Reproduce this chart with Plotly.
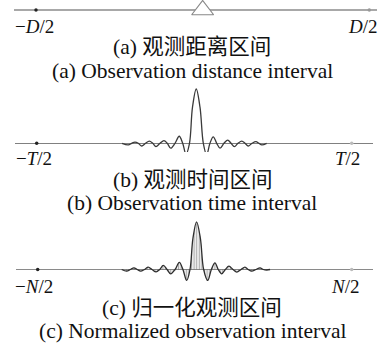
import plotly.graph_objects as go

W, H = 391, 343

# ---------------- data ----------------
interval_ends = [-1, 1]            # -X/2 and X/2 (normalized)
target_position = [0]              # observation target in distance interval

labels_a = ["\u2212<i>D</i>/2", "<i>D</i>/2"]
labels_b = ["\u2212<i>T</i>/2", "<i>T</i>/2"]
labels_c = ["\u2212<i>N</i>/2", "<i>N</i>/2"]

captions_a = ["(a) 观测距离区间", "(a) Observation distance interval"]
captions_b = ["(b) 观测时间区间", "(b) Observation time interval"]
captions_c = ["(c) 归一化观测区间", "(c) Normalized observation interval"]

# (b) echo waveform, time in units of T/2, amplitude normalized
time_b = [-0.458, -0.418, -0.397, -0.376, -0.355, -0.333, -0.309, -0.285, -0.263, -0.243,
          -0.217, -0.192, -0.171, -0.149, -0.122, -0.095, -0.073, -0.052, -0.030, -0.011,
          0.013, 0.037, 0.058, 0.079, 0.100, 0.121, 0.143, 0.164, 0.189, 0.213,
          0.234, 0.255, 0.278, 0.302, 0.323, 0.343, 0.367, 0.392, 0.411, 0.429, 0.460]
amp_b = [0, -0.03, 0, 0.02, 0, -0.05, 0, 0.04, 0, -0.06,
         0, 0.05, 0, -0.09, 0, 0.13, 0, -0.20, 0, 0.66,
         1.0, 0.66, 0, -0.21, 0, 0.12, 0, -0.09, 0, 0.06,
         0, -0.06, 0, 0.04, 0, -0.05, 0, 0.03, 0, -0.03, 0]

# (c) sampled waveform, index in units of N/2, amplitude normalized
index_c = [-0.465, -0.433, -0.410, -0.387, -0.366, -0.344, -0.320, -0.296, -0.272, -0.246,
           -0.223, -0.200, -0.176, -0.153, -0.125, -0.098, -0.075, -0.051, -0.030, -0.011,
           0.012, 0.036, 0.057, 0.083, 0.106, 0.129, 0.150, 0.172, 0.195, 0.218,
           0.244, 0.268, 0.295, 0.320, 0.341, 0.363, 0.390, 0.416, 0.437, 0.459, 0.480]
amp_c = [0, -0.035, 0, 0.035, 0, -0.035, 0, 0.05, 0, -0.05,
         0, 0.085, 0, -0.09, 0, 0.15, 0, -0.23, 0, 0.66,
         1.0, 0.66, 0, -0.23, 0, 0.14, 0, -0.09, 0, 0.07,
         0, -0.055, 0, 0.05, 0, -0.035, 0, 0.035, 0, -0.01, 0]

# ---------------- layout helpers (pixel anchors) ----------------
def xaxis_for(left_px, right_px, m1_px, p1_px):
    unit = (p1_px - m1_px) / 2.0
    c = (m1_px + p1_px) / 2.0
    return dict(domain=[left_px / W, right_px / W],
                range=[(left_px - c) / unit, (right_px - c) / unit],
                visible=False, fixedrange=True)

def yaxis_for(top_px, bottom_px, base_px, unit_px, lc, lw):
    return dict(domain=[1 - bottom_px / H, 1 - top_px / H],
                range=[-(bottom_px - base_px) / unit_px, (base_px - top_px) / unit_px],
                showgrid=False, showticklabels=False, ticks="", showline=False,
                zeroline=True, zerolinecolor=lc, zerolinewidth=lw, fixedrange=True)

serif = "Liberation Serif, Times New Roman, Noto Sans CJK SC"
fig = go.Figure()

# panel a
fig.add_trace(go.Scatter(x=interval_ends, y=[0, 0], mode="markers", xaxis="x", yaxis="y",
                         marker=dict(size=3.5, color=["#222", "#999"]), showlegend=False,
                         hoverinfo="skip"))
fig.add_trace(go.Scatter(x=target_position, y=[0], mode="markers", xaxis="x", yaxis="y",
                         marker=dict(symbol="triangle-up", size=19, color="white",
                                     line=dict(color="#888", width=1.2)), showlegend=False,
                         hoverinfo="skip"))
# panel b
fig.add_trace(go.Scatter(x=time_b, y=amp_b, mode="lines", xaxis="x2", yaxis="y2",
                         line=dict(color="#3a3a3a", width=1.3, shape="spline", smoothing=1.0),
                         showlegend=False, hoverinfo="skip"))
fig.add_trace(go.Scatter(x=interval_ends, y=[0, 0], mode="markers", xaxis="x2", yaxis="y2",
                         marker=dict(size=3.5, color=["#222", "#bbb"]), showlegend=False,
                         hoverinfo="skip"))
# panel c
fig.add_trace(go.Scatter(x=index_c, y=amp_c, mode="lines", xaxis="x3", yaxis="y3",
                         fill="tozeroy", fillcolor="rgba(0,0,0,0)",
                         fillpattern=dict(shape="|", size=2.6, solidity=0.5,
                                          fgcolor="#555", bgcolor="rgba(0,0,0,0)"),
                         line=dict(color="#2e2e2e", width=1.3, shape="spline", smoothing=1.0),
                         showlegend=False, hoverinfo="skip"))
fig.add_trace(go.Scatter(x=interval_ends, y=[0, 0], mode="markers", xaxis="x3", yaxis="y3",
                         marker=dict(size=3.5, color=["#222", "#bbb"]), showlegend=False,
                         hoverinfo="skip"))

annotations = []
def tick_labels(labels, xref, y_px, shifts):
    for xv, txt, sh in zip(interval_ends, labels, shifts):
        annotations.append(dict(x=xv, xref=xref, y=1 - y_px / H, yref="paper", text=txt,
                                showarrow=False, xanchor="center", yanchor="middle", xshift=sh,
                                font=dict(family=serif, size=19, color="#111")))

def captions(lines, ys_px):
    for txt, y_px in zip(lines, ys_px):
        annotations.append(dict(x=192 / W, xref="paper", y=1 - y_px / H, yref="paper", text=txt,
                                showarrow=False, xanchor="center", yanchor="middle",
                                font=dict(family=serif, size=21.5, color="#111")))

tick_labels(labels_a, "x", 26, [-2, -6])
captions(captions_a, [47, 71])
tick_labels(labels_b, "x2", 158, [-3, -4])
captions(captions_b, [180, 203])
tick_labels(labels_c, "x3", 286, [-4, -7])
captions(captions_c, [308, 331])

fig.update_layout(
    width=W, height=H, autosize=False,
    margin=dict(l=0, r=0, t=0, b=0),
    paper_bgcolor="white", plot_bgcolor="rgba(0,0,0,0)",
    hovermode=False,
    xaxis=xaxis_for(14, 377, 36, 369.3),
    yaxis=yaxis_for(0, 20, 10, 10, "#a8a8a8", 1.6),
    xaxis2=xaxis_for(15, 373, 36.7, 351.7),
    yaxis2=yaxis_for(84, 152, 143.3, 54.3, "#808080", 1.0),
    xaxis3=xaxis_for(16, 373, 37.7, 351.7),
    yaxis3=yaxis_for(216, 284, 269.5, 47.7, "#8a8a8a", 1.0),
    annotations=annotations,
)
fig.update_layout(yaxis2_anchor="x2", yaxis3_anchor="x3", xaxis2_anchor="y2", xaxis3_anchor="y3")

fig.write_html("out.html", config={"displayModeBar": False},
               post_script="document.body.style.margin='0';document.body.style.overflow='hidden';")
